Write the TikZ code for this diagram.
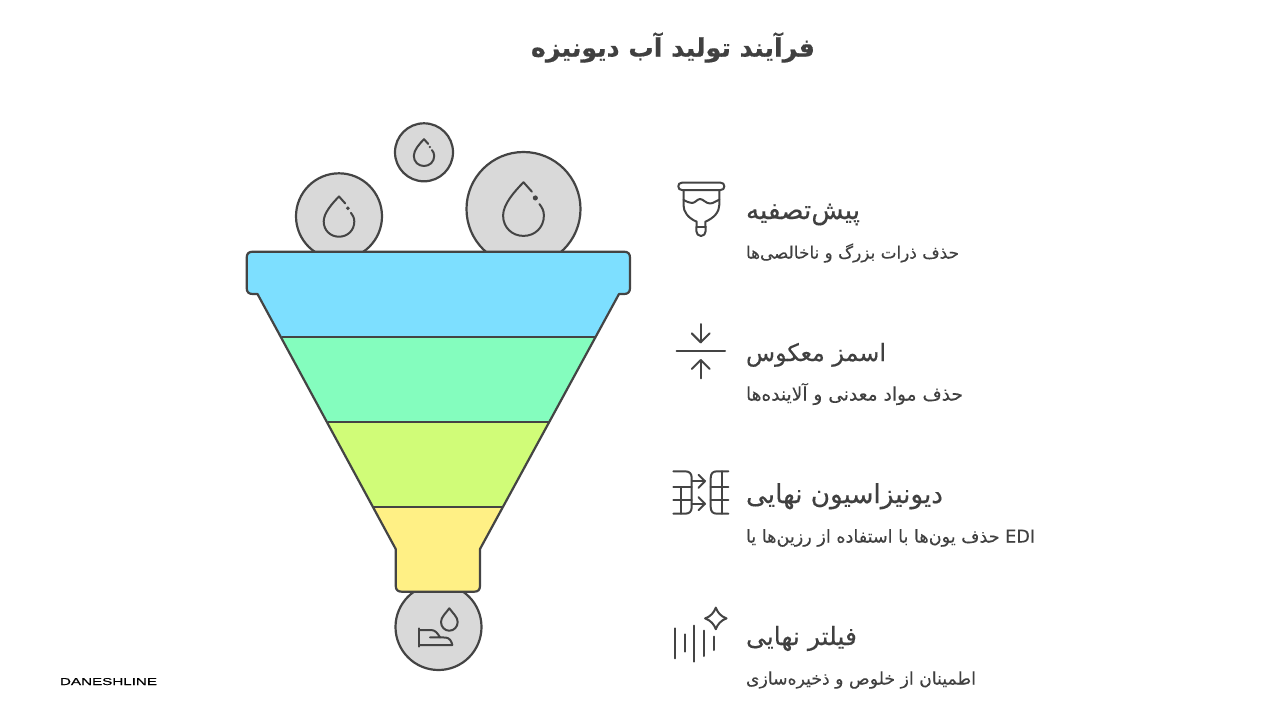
\documentclass[tikz,border=0pt]{standalone}
\usepackage{fontspec}
\usepackage{graphicx}
\TeXXeTstate=1
\newfontfamily\fa[Script=Arabic,FakeBold=0.35]{DejaVu Sans}
\newfontfamily\fasmall[Script=Arabic,FakeBold=0.15]{DejaVu Sans}
\newfontfamily\fatitle[Script=Arabic,FakeBold=0.5]{DejaVu Sans Bold}
\newfontfamily\lat[FakeBold=0.3]{Liberation Sans}
\definecolor{ink}{HTML}{444444}
\definecolor{txt}{HTML}{404040}
\definecolor{disc}{HTML}{D9D9D9}
\definecolor{bandA}{HTML}{7DDFFF}
\definecolor{bandB}{HTML}{84FDBE}
\definecolor{bandC}{HTML}{D0FC78}
\definecolor{bandD}{HTML}{FFF085}
\tikzset{
  outline/.style={draw=ink,line width=2.2pt,line join=round},
  icon/.style={draw=ink,line width=2pt,line cap=round,line join=round},
  thin icon/.style={draw=ink,line width=2pt,line cap=round,line join=round},
  label/.style={inner sep=0pt,outer sep=0pt,text=txt,anchor=base west},
}
\newcommand{\waterdrop}[3]{%
  \begin{scope}[shift={(#1,#2)},scale=#3]
    \draw[thin icon] (.41,-1.17) -- (0,-1.63) .. controls (-.45,-1.17) and (-1,-.55) .. (-1,0)
      .. controls (-1,.6) and (-.55,1) .. (0,1) .. controls (.55,1) and (1,.6) .. (1,0)
      .. controls (1,-.25) and (.9,-.4) .. (.78,-.56);
    \fill[ink] (.58,-.86) circle (.125);
  \end{scope}}
\newcommand{\fahead}[1]{\fontsize{21}{25}\selectfont\fa\beginR #1\endR}
\newcommand{\fasub}[1]{\fontsize{15}{18}\selectfont\fasmall\beginR #1\endR}
\begin{document}
\begin{tikzpicture}[x=1pt,y=-1pt]
\useasboundingbox (0,0) rectangle (1280,720);
\fill[white] (0,0) rectangle (1280,720);
% title
\node[label,anchor=base] (title) at (673,56.5) {\resizebox{284pt}{!}{\fontsize{26}{30}\selectfont\fatitle\beginR فرآیند تولید آب دیونیزه\endR}};
% discs
\node[circle,outline,fill=disc,minimum size=86pt,inner sep=0pt] (d1) at (339,216.3) {};
\node[circle,outline,fill=disc,minimum size=58pt,inner sep=0pt] (d2) at (424,152.3) {};
\node[circle,outline,fill=disc,minimum size=114pt,inner sep=0pt] (d3) at (523.5,209) {};
\node[circle,outline,fill=disc,minimum size=86pt,inner sep=0pt] (d4) at (438.5,627) {};
\waterdrop{339}{221.4}{15.3}
\waterdrop{424}{155.8}{10.2}
\waterdrop{523.5}{215.5}{20.4}
% bottom icon
\draw[thin icon] (449.3,608.3) .. controls (446,613) and (441,617) .. (441,622)
  .. controls (441,627) and (444.8,630.7) .. (449.3,630.7)
  .. controls (453.8,630.7) and (457.7,627) .. (457.7,622)
  .. controls (457.7,617) and (452.6,613) .. (449.3,608.3) -- cycle;
\draw[thin icon] (419,628.3) -- (419,646.7);
\draw[thin icon] (419,630) -- (431,630) .. controls (435,630) and (437.5,633) .. (440,637.3) -- (430,637.3);
\draw[thin icon] (440,637.3) -- (446,637.6) .. controls (449.5,638) and (451.5,641) .. (452.3,645) -- (419,645);
% funnel bands
\fill[bandD] (373.8,507.3) -- (503,507.3) -- (480,549) -- (480,585.7) .. controls (480,590) and (478,591.7) .. (474,591.7)
  -- (402,591.7) .. controls (398,591.7) and (395.7,590) .. (395.7,585.7) -- (395.7,549) -- cycle;
\fill[bandC] (327.5,422) -- (550,422) -- (503,507.3) -- (373.8,507.3) -- cycle;
\fill[bandB] (281.5,336.7) -- (595.5,336.7) -- (550,422) -- (327.5,422) -- cycle;
\fill[bandA] (252.7,251.7) -- (624,251.7) .. controls (628,251.7) and (630,253.7) .. (630,257.7) -- (630,288)
  .. controls (630,292) and (628,294) .. (624,294) -- (619,294) -- (595.5,336.7) -- (281.5,336.7) -- (257.5,294) -- (252.7,294)
  .. controls (248.7,294) and (246.7,292) .. (246.7,288) -- (246.7,257.7) .. controls (246.7,253.7) and (248.7,251.7) .. (252.7,251.7) -- cycle;
\draw[outline] (252.7,251.7) -- (624,251.7) .. controls (628,251.7) and (630,253.7) .. (630,257.7) -- (630,288)
  .. controls (630,292) and (628,294) .. (624,294) -- (619,294) -- (480,549) -- (480,585.7) .. controls (480,590) and (478,591.7) .. (474,591.7)
  -- (402,591.7) .. controls (398,591.7) and (395.7,590) .. (395.7,585.7) -- (395.7,549) -- (257.5,294) -- (252.7,294)
  .. controls (248.7,294) and (246.7,292) .. (246.7,288) -- (246.7,257.7) .. controls (246.7,253.7) and (248.7,251.7) .. (252.7,251.7) -- cycle;
\draw[outline] (281.5,336.7) -- (595.5,336.7);
\draw[outline] (327.5,422) -- (550,422);
\draw[outline] (373.8,507.3) -- (503,507.3);
% icon 1: cup
\draw[icon] (682,182.7) -- (720.6,182.7) .. controls (723,182.7) and (724.3,184) .. (724.3,186.3)
  .. controls (724.3,188.6) and (723,190) .. (720.6,190) -- (682,190) .. controls (679.6,190) and (678.3,188.6) .. (678.3,186.3)
  .. controls (678.3,184) and (679.6,182.7) .. (682,182.7) -- cycle;
\draw[icon] (683.5,190) -- (683.5,205) .. controls (683.5,212) and (688,218) .. (696.7,221.7) -- (696.3,231)
  .. controls (696.3,234) and (698.5,236) .. (701,236) .. controls (703.5,236) and (705.7,234) .. (705.7,231) -- (705.3,221.7)
  .. controls (714,218) and (719.3,212) .. (719.3,205) -- (719.3,190);
\draw[icon] (683.5,200) .. controls (687,201.5) and (689,203) .. (692,203) .. controls (695,203) and (697.5,199) .. (700,199) .. controls (703,199) and (706,203.5) .. (710,203.5) .. controls (713,203.5) and (716,201) .. (719.3,199.7);
\draw[icon] (696.5,227.3) -- (705.5,227.3);
% icon 2: arrows
\draw[icon] (676.7,351) -- (725,351);
\draw[icon] (700.7,324) -- (700.7,342.3);
\draw[icon] (691.7,333.3) -- (700.7,342.3) -- (709.7,333.3);
\draw[icon] (700.7,360) -- (700.7,378.3);
\draw[icon] (691.7,369) -- (700.7,360) -- (709.7,369);
% icon 3: exchange
\draw[icon] (673.3,471.3) -- (685,471.3) .. controls (689.5,471.3) and (691.7,473.5) .. (691.7,478) -- (691.7,507) .. controls (691.7,511.5) and (689.5,513.7) .. (685,513.7) -- (673.3,513.7);
\draw[icon] (673.3,487) -- (691.7,487);
\draw[icon] (673.3,500.3) -- (691.7,500.3);
\draw[icon] (680.7,487) -- (680.7,513.7);
\draw[icon] (691.7,481.3) -- (705,481.3);
\draw[icon] (698.5,474.8) -- (705,481.3) -- (698.5,487.8);
\draw[icon] (691.7,503.7) -- (705,503.7);
\draw[icon] (698.5,497.2) -- (705,503.7) -- (698.5,510.2);
\draw[icon] (728.3,471.3) -- (717,471.3) .. controls (712.8,471.3) and (710.7,473.5) .. (710.7,478) -- (710.7,507) .. controls (710.7,511.5) and (712.8,513.7) .. (717,513.7) -- (728.3,513.7);
\draw[icon] (710.7,487) -- (728.3,487);
\draw[icon] (710.7,500.3) -- (728.3,500.3);
\draw[icon] (721.7,471.3) -- (721.7,513.7);
% icon 4: sparkle
\draw[icon] (715.8,607.6) .. controls (717.5,612.5) and (721,616.5) .. (726.5,618.4) .. controls (721,620.3) and (717.5,624.3) .. (715.8,629.2)
  .. controls (714.1,624.3) and (710.6,620.3) .. (705.1,618.4) .. controls (710.6,616.5) and (714.1,612.5) .. (715.8,607.6) -- cycle;
\draw[icon] (675,628.3) -- (675,658.3);
\draw[icon] (685,634.3) -- (685,651.7);
\draw[icon] (694.3,625.7) -- (694.3,661.7);
\draw[icon] (704,630.7) -- (704,656);
\draw[icon] (713.7,636.7) -- (713.7,650);
% labels
\node[label] (h1) at (746,219) {\resizebox{114pt}{!}{\fahead{پیش‌تصفیه}}};
\node[label] (s1) at (746,258.5) {\resizebox{213pt}{!}{\fasub{حذف ذرات بزرگ و ناخالصی‌ها}}};
\node[label] (h2) at (746,361) {\resizebox{140pt}{!}{\fahead{اسمز معکوس}}};
\node[label] (s2) at (746,400.5) {\resizebox{217pt}{!}{\fasub{حذف مواد معدنی و آلاینده‌ها}}};
\node[label] (h3) at (746,503) {\resizebox{197pt}{!}{\fahead{دیونیزاسیون نهایی}}};
\node[label] (s3) at (746,542.5) {\resizebox{289pt}{!}{\fasub{\beginL EDI\endL{} حذف یون‌ها با استفاده از رزین‌ها یا}}};
\node[label] (h4) at (746,645) {\resizebox{111pt}{!}{\fahead{فیلتر نهایی}}};
\node[label] (s4) at (746,684.5) {\resizebox{230pt}{!}{\fasub{اطمینان از خلوص و ذخیره‌سازی}}};
\node[label,text=black] (brand) at (60,685) {\resizebox{97pt}{7pt}{\lat DANESHLINE}};
\end{tikzpicture}
\end{document}
